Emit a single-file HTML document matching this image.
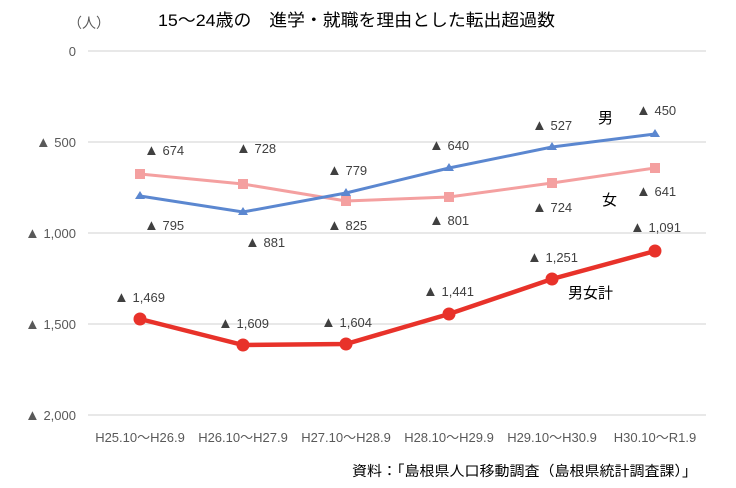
<!DOCTYPE html>
<html><head><meta charset="utf-8"><style>
html,body{margin:0;padding:0;background:#fff}
svg{display:block;font-family:"Liberation Sans","Noto Sans CJK JP",sans-serif}
.l{font-size:13px;fill:#404040}
.a{font-size:13px;fill:#595959}
.t{font-size:15px}
</style></head><body>
<svg width="736" height="488" viewBox="0 0 736 488" xmlns="http://www.w3.org/2000/svg">
<rect width="736" height="488" fill="#fff"/>
<text x="68" y="28" font-size="14" fill="#595959">（人）</text>
<text x="158" y="26" font-size="17" fill="#000" textLength="397" lengthAdjust="spacingAndGlyphs">15～24歳の　進学・就職を理由とした転出超過数</text>
<g stroke="#d9d9d9" stroke-width="1.3">
<line x1="88" y1="51" x2="706" y2="51"/><line x1="88" y1="142" x2="706" y2="142"/>
<line x1="88" y1="233" x2="706" y2="233"/><line x1="88" y1="324" x2="706" y2="324"/>
<line x1="88" y1="415" x2="706" y2="415"/></g>
<g class="a" text-anchor="end">
<text x="76" y="56">0</text><text x="76" y="147"><tspan class="t">▲</tspan> 500</text><text x="76" y="238"><tspan class="t">▲</tspan> 1,000</text>
<text x="76" y="329"><tspan class="t">▲</tspan> 1,500</text><text x="76" y="420"><tspan class="t">▲</tspan> 2,000</text></g>
<g class="a" text-anchor="middle">
<text x="140" y="442">H25.10～H26.9</text><text x="243" y="442">H26.10～H27.9</text>
<text x="346" y="442">H27.10～H28.9</text><text x="449" y="442">H28.10～H29.9</text>
<text x="552" y="442">H29.10～H30.9</text><text x="655" y="442">H30.10～R1.9</text></g>
<text x="352" y="476" font-size="14" fill="#000" textLength="345" lengthAdjust="spacingAndGlyphs">資料：「島根県人口移動調査（島根県統計調査課）」</text>
<polyline fill="none" stroke="#f4a0a0" stroke-width="3" points="140,174 243,184 346,201 449,197 552,183 655,168"/>
<g fill="#f4a0a0"><rect x="135" y="169" width="10" height="10"/><rect x="238" y="179" width="10" height="10"/><rect x="341" y="196" width="10" height="10"/><rect x="444" y="192" width="10" height="10"/><rect x="547" y="178" width="10" height="10"/><rect x="650" y="163" width="10" height="10"/></g>
<polyline fill="none" stroke="#5b87d0" stroke-width="3" points="140,196 243,212 346,193 449,168 552,147 655,134"/>
<g fill="#5b87d0"><path d="M140,191 l5,8 h-10z"/><path d="M243,207 l5,8 h-10z"/><path d="M346,188 l5,8 h-10z"/><path d="M449,163 l5,8 h-10z"/><path d="M552,142 l5,8 h-10z"/><path d="M655,129 l5,8 h-10z"/></g>
<polyline fill="none" stroke="#e8322a" stroke-width="4.5" points="140,319 243,345 346,344 449,314 552,279 655,251"/>
<g fill="#e8322a"><circle cx="140" cy="319" r="6.5"/><circle cx="243" cy="345" r="6.5"/><circle cx="346" cy="344" r="6.5"/><circle cx="449" cy="314" r="6.5"/><circle cx="552" cy="279" r="6.5"/><circle cx="655" cy="251" r="6.5"/></g>
<g class="l">
<text x="144" y="155"><tspan class="t">▲</tspan> 674</text><text x="144" y="230"><tspan class="t">▲</tspan> 795</text>
<text x="236" y="153"><tspan class="t">▲</tspan> 728</text><text x="245" y="247"><tspan class="t">▲</tspan> 881</text>
<text x="327" y="175"><tspan class="t">▲</tspan> 779</text><text x="327" y="230"><tspan class="t">▲</tspan> 825</text>
<text x="429" y="150"><tspan class="t">▲</tspan> 640</text><text x="429" y="225"><tspan class="t">▲</tspan> 801</text>
<text x="532" y="130"><tspan class="t">▲</tspan> 527</text><text x="532" y="212"><tspan class="t">▲</tspan> 724</text>
<text x="636" y="115"><tspan class="t">▲</tspan> 450</text><text x="636" y="196"><tspan class="t">▲</tspan> 641</text>
<text x="114" y="302"><tspan class="t">▲</tspan> 1,469</text><text x="218" y="328"><tspan class="t">▲</tspan> 1,609</text>
<text x="321" y="327"><tspan class="t">▲</tspan> 1,604</text><text x="423" y="296"><tspan class="t">▲</tspan> 1,441</text>
<text x="527" y="262"><tspan class="t">▲</tspan> 1,251</text><text x="630" y="232"><tspan class="t">▲</tspan> 1,091</text></g>
<g font-size="15" fill="#000"><text x="598" y="123">男</text><text x="602" y="205">女</text><text x="568" y="298">男女計</text></g>
</svg>
</body></html>
